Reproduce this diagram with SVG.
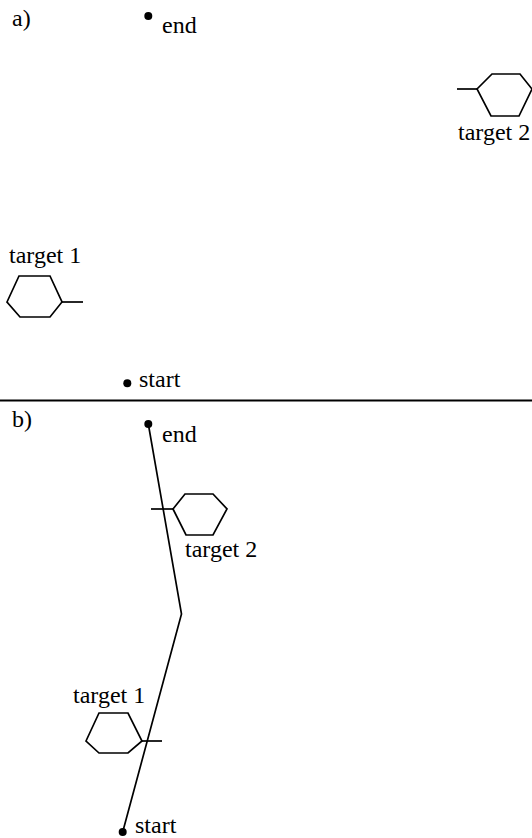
<svg xmlns="http://www.w3.org/2000/svg" width="532" height="838" viewBox="0 0 532 838">
<style>
text{font-family:"Liberation Serif","Times New Roman",serif;font-size:24px;fill:#000}
.ln{fill:none;stroke:#000;stroke-width:1.7;stroke-linejoin:miter}
.dot{fill:#000}
</style>
<rect width="532" height="838" fill="#fff"/>
<text x="12" y="26">a)</text>
<text x="12" y="427">b)</text>
<line class="ln" x1="0" y1="400.5" x2="532" y2="400.5" style="stroke-width:2"/>
<g id="connectors">
<polyline class="ln" points="148.3,424 181.5,614 122.7,832"/>
</g>
<g id="a-end"><circle class="dot" cx="148.3" cy="16" r="4"/><text x="162" y="33">end</text></g>
<g id="a-start"><circle class="dot" cx="127.3" cy="383.3" r="4"/><text x="139" y="387">start</text></g>
<g id="a-target2">
<line class="ln" x1="457" y1="89" x2="477" y2="89"/>
<polygon class="ln" points="477,89 492,74 520,74 532,89 519,116 491,116"/>
<text x="458" y="140">target 2</text>
</g>
<g id="a-target1">
<line class="ln" x1="62" y1="302" x2="83" y2="302"/>
<polygon class="ln" points="7,302 19,276 50,276 62,302 50,317 20,317"/>
<text x="9" y="263">target 1</text>
</g>
<g id="b-end"><circle class="dot" cx="148.3" cy="424" r="4"/><text x="162" y="442">end</text></g>
<g id="b-start"><circle class="dot" cx="122.7" cy="832" r="4"/><text x="135" y="833">start</text></g>
<g id="b-target2">
<line class="ln" x1="151" y1="509" x2="173" y2="509"/>
<polygon class="ln" points="173,509 185,494 213,494 227,509 213,535 186,535"/>
<text x="185" y="557">target 2</text>
</g>
<g id="b-target1">
<line class="ln" x1="142" y1="741" x2="162" y2="741"/>
<polygon class="ln" points="86,741 99,713 128,713 142,741 128,753 99,753"/>
<text x="73" y="703">target 1</text>
</g>
</svg>
